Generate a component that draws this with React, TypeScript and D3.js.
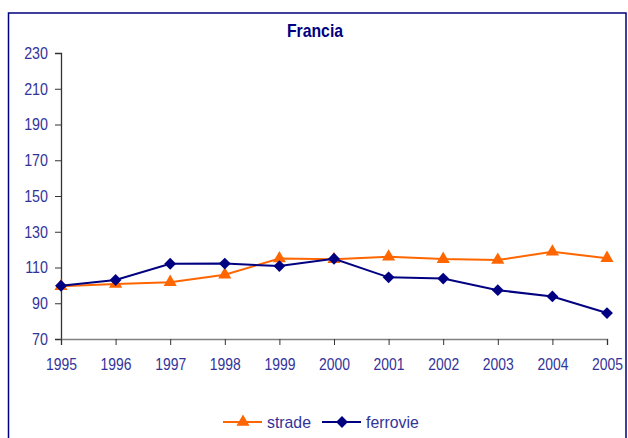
import * as d3 from "d3";
import { useEffect, useRef } from "react";

const years = [1995, 1996, 1997, 1998, 1999, 2000, 2001, 2002, 2003, 2004, 2005];
const strade = [99.5, 100.8, 101.8, 106, 115, 114.6, 116, 114.7, 114.2, 118.8, 115.2];
const ferrovie = [99.8, 103, 112.1, 112.2, 110.8, 114.9, 104.5, 103.8, 97.3, 93.8, 84.5];
const yTicks = [70, 90, 110, 130, 150, 170, 190, 210, 230];

const W = 628;
const H = 438;
const margin = { top: 53, right: 21, bottom: 99, left: 61 };
const font = "'Liberation Sans', Arial, sans-serif";

const ORANGE = "#FF6600";
const NAVY = "#000080";
const LABEL = "#333399";

// squeeze text horizontally to imitate a narrow font
const narrow = (k: number) => (sel: d3.Selection<any, any, any, any>) => {
	sel.each(function () {
		const node = this as SVGTextElement;
		const w = node.getComputedTextLength();
		d3.select(node)
			.attr("textLength", w * k)
			.attr("lengthAdjust", "spacingAndGlyphs");
	});
};

export default function App() {
	const ref = useRef<SVGSVGElement>(null);

	useEffect(() => {
		const svg = d3.select(ref.current);
		svg.selectAll("*").remove();

		const innerW = W - margin.left - margin.right;
		const innerH = H - margin.top - margin.bottom;

		const x = d3
			.scaleLinear()
			.domain([1995, 2005])
			.range([margin.left, margin.left + innerW]);
		const y = d3
			.scaleLinear()
			.domain([70, 230])
			.range([margin.top + innerH, margin.top]);

		// frame
		svg
			.append("rect")
			.attr("x", 8.5)
			.attr("y", 13)
			.attr("width", 617.5)
			.attr("height", 440)
			.attr("fill", "#fff")
			.attr("stroke", NAVY)
			.attr("stroke-width", 1.5);

		svg
			.append("text")
			.attr("x", 315)
			.attr("y", 37)
			.attr("text-anchor", "middle")
			.attr("font-family", font)
			.attr("font-weight", "bold")
			.attr("font-size", 19)
			.attr("fill", NAVY)
			.text("Francia")
			.call(narrow(0.83));

		// y axis
		const yAxis = svg
			.append("g")
			.attr("transform", `translate(${margin.left},0)`)
			.call(d3.axisLeft(y).tickValues(yTicks).tickSize(6).tickPadding(7));
		yAxis.select(".domain").attr("stroke", "#333").attr("stroke-width", 1.3);
		yAxis.selectAll("line").attr("stroke", "#333");
		yAxis
			.selectAll("text")
			.attr("font-family", font)
			.attr("font-size", 17)
			.attr("fill", LABEL)
			.call(narrow(0.84));

		// x axis
		const xAxis = svg
			.append("g")
			.attr("transform", `translate(0,${margin.top + innerH})`)
			.call(
				d3
					.axisBottom(x)
					.tickValues(years)
					.tickFormat(d3.format("d"))
					.tickSize(6)
					.tickPadding(13)
			);
		xAxis.select(".domain").attr("stroke", "#808080").attr("stroke-width", 1.5);
		xAxis.selectAll("line").attr("stroke", "#333");
		xAxis
			.selectAll("text")
			.attr("font-family", font)
			.attr("font-size", 17)
			.attr("fill", LABEL)
			.attr("transform", "scale(0.82,1)");

		const lineGen = d3
			.line<number>()
			.x((d, i) => x(years[i]))
			.y((d) => y(d));

		const tri = d3.symbol().type(d3.symbolTriangle).size(75)();
		const dia = d3.symbol().type(d3.symbolSquare).size(70)();

		svg
			.append("path")
			.attr("d", lineGen(strade))
			.attr("fill", "none")
			.attr("stroke", ORANGE)
			.attr("stroke-width", 2);
		svg
			.append("g")
			.selectAll("path")
			.data(strade)
			.join("path")
			.attr("d", tri)
			.attr("transform", (d, i) => `translate(${x(years[i])},${y(d)})`)
			.attr("fill", ORANGE);

		svg
			.append("path")
			.attr("d", lineGen(ferrovie))
			.attr("fill", "none")
			.attr("stroke", NAVY)
			.attr("stroke-width", 2);
		svg
			.append("g")
			.selectAll("path")
			.data(ferrovie)
			.join("path")
			.attr("d", dia)
			.attr("transform", (d, i) => `translate(${x(years[i])},${y(d)}) rotate(45)`)
			.attr("fill", NAVY);

		// legend
		const legend = [
			{ name: "strade", color: ORANGE, sym: tri, rot: 0, x0: 223 },
			{ name: "ferrovie", color: NAVY, sym: dia, rot: 45, x0: 322 },
		];
		const ly = 422;
		legend.forEach((l) => {
			const g = svg.append("g");
			g.append("line")
				.attr("x1", l.x0)
				.attr("x2", l.x0 + 39)
				.attr("y1", ly)
				.attr("y2", ly)
				.attr("stroke", l.color)
				.attr("stroke-width", 2);
			g.append("path")
				.attr("d", l.sym)
				.attr("transform", `translate(${l.x0 + 20},${ly}) rotate(${l.rot})`)
				.attr("fill", l.color);
			g.append("text")
				.attr("x", l.x0 + 44)
				.attr("y", ly + 6)
				.attr("font-family", font)
				.attr("font-size", 17)
				.attr("fill", LABEL)
				.text(l.name)
				.call(narrow(0.93));
		});
	}, []);

	return (
		<svg
			ref={ref}
			width={W}
			height={H}
			style={{ position: "absolute", left: 0, top: 0 }}
		/>
	);
}
